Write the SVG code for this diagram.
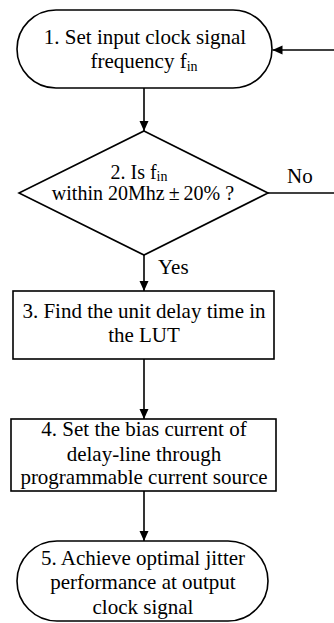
<svg xmlns="http://www.w3.org/2000/svg" width="334" height="623" viewBox="0 0 334 623">
<style>
.box{fill:#fff;stroke:#000;stroke-width:1.6}
.t{font-family:"Liberation Serif","Times New Roman",serif;font-size:21px;fill:#000;text-anchor:middle}
.d{font-size:20px}
.lbl{font-family:"Liberation Serif","Times New Roman",serif;font-size:21px;fill:#000}
.sub{font-size:14px}
.c{fill:none;stroke:#000;stroke-width:1.6}
</style>
<defs>
<marker id="ah" markerUnits="userSpaceOnUse" markerWidth="10" markerHeight="10" refX="10" refY="5" orient="auto">
<path d="M0,0.5 L10,5 L0,9.5 z" fill="#000"/>
</marker>
</defs>
<rect width="334" height="623" fill="#fff"/>
<g id="connectors">
<line class="c" x1="334" y1="50" x2="272.5" y2="50" marker-end="url(#ah)"/>
<line class="c" x1="144" y1="88" x2="144" y2="131" marker-end="url(#ah)"/>
<line class="c" x1="267" y1="193" x2="334" y2="193"/>
<line class="c" x1="144" y1="255" x2="144" y2="291" marker-end="url(#ah)"/>
<line class="c" x1="144" y1="359" x2="144" y2="419" marker-end="url(#ah)"/>
<line class="c" x1="144" y1="491" x2="144" y2="541" marker-end="url(#ah)"/>
<text class="lbl" x="287" y="183">No</text>
<text class="lbl" x="158" y="274">Yes</text>
</g>
<g id="node1">
<rect class="box" x="17" y="10" width="255" height="78" rx="39" ry="39"/>
<text class="t" x="145" y="44">1. Set input clock signal</text>
<text class="t" x="144" y="68">frequency f<tspan class="sub" dy="3">in</tspan></text>
</g>
<g id="node2">
<polygon class="box" points="144,131 268,193 144,255 19,193"/>
<text class="t d" x="139" y="179">2. Is f<tspan class="sub" dy="2">in</tspan></text>
<text class="t d" x="143" y="200">within 20Mhz<tspan dx="4">±</tspan><tspan dx="4">20% ?</tspan></text>
</g>
<g id="node3">
<rect class="box" x="13" y="291" width="261" height="68"/>
<text class="t" x="144" y="318">3. Find the unit delay time in</text>
<text class="t" x="144" y="342">the LUT</text>
</g>
<g id="node4">
<rect class="box" x="11" y="419" width="265" height="72"/>
<text class="t" x="144" y="436">4. Set the bias current of</text>
<text class="t" x="144" y="461">delay-line through</text>
<text class="t" x="144" y="484">programmable current source</text>
</g>
<g id="node5">
<rect class="box" x="17" y="541" width="251" height="80" rx="40" ry="40"/>
<text class="t" x="143" y="565">5. Achieve optimal jitter</text>
<text class="t" x="143" y="589">performance at output</text>
<text class="t" x="143" y="614">clock signal</text>
</g>
</svg>
